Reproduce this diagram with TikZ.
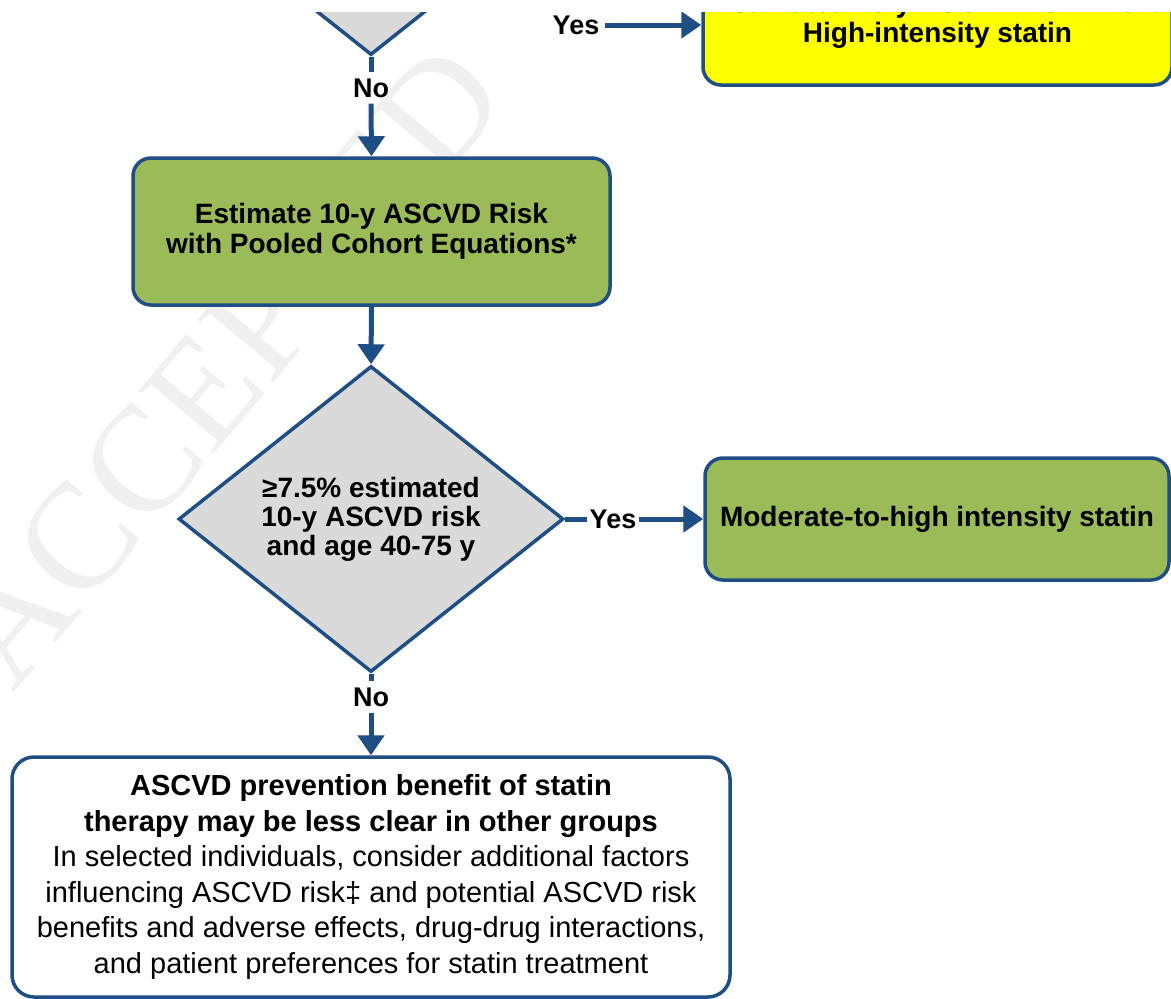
\documentclass[tikz,border=0pt]{standalone}
\usepackage{fontspec}
\setmainfont{Liberation Sans}
\newfontfamily\wmfont{Liberation Serif}
\usetikzlibrary{arrows.meta,shapes.geometric}
\definecolor{fblue}{HTML}{1F4E85}
\definecolor{fgreen}{HTML}{9BBB59}
\definecolor{fgray}{HTML}{DADADA}
\definecolor{fyellow}{HTML}{FFFF00}
\tikzset{
  box/.style={draw=fblue, line width=3.5pt, rounded corners=18pt, align=center,
    inner sep=0pt, font=\bfseries\fontsize{28}{30}\selectfont},
  dec/.style={diamond, draw=fblue, fill=fgray, line width=3.5pt, shape aspect=1.26,
    minimum width=385pt, minimum height=306pt, inner sep=0pt, align=center,
    font=\bfseries\fontsize{28}{29}\selectfont},
  lbl/.style={font=\bfseries\fontsize{27}{29}\selectfont, inner sep=6pt},
  conn/.style={draw=fblue, line width=5pt},
  arr/.style={conn, -{Triangle[width=26pt,length=20pt]}},
  wm/.style={font=\wmfont\fontsize{150}{150}\selectfont, text=black!6}
}
\begin{document}
\begin{tikzpicture}[x=1pt,y=-1pt]
\useasboundingbox[fill=white] (0,0) rectangle (1171,999);
\begin{scope}
\clip (0,12) rectangle (1171,999);
\node[wm, rotate=50] (wmark) at (225,365) {ACCEPTED};
% top decision (cut off)
\node[dec] (d1) at (371,-98) {};
\node[box, fill=fyellow, minimum width=469pt, minimum height=130pt] (y1) at (937.5,20)
  {Estimated 10-y ASCVD risk ≥7.5\%\\High-intensity statin};
\node[lbl] (yes1) at (576,25) {Yes};
\draw[arr] (yes1.east) -- (yes1.east -| y1.west);
\node[lbl] (no1) at (371,88) {No};
\draw[conn] (d1.south) -- (no1.north);
% estimate box
\node[box, fill=fgreen, minimum width=477pt, minimum height=147pt] (b1) at (371.5,231.5)
  {Estimate 10-y ASCVD Risk\\with Pooled Cohort Equations*};
\draw[arr] (no1.south) -- (b1.north);
% second decision
\node[dec] (d2) at (371,519) {≥7.5\% estimated\\10-y ASCVD risk\\and age 40-75 y};
\draw[arr] (b1.south) -- (d2.north);
\node[lbl, inner sep=3pt] (yes2) at (613,519) {Yes};
\node[box, fill=fgreen, minimum width=464pt, minimum height=122pt] (b2) at (937,519)
  {Moderate-to-high intensity statin};
\draw[conn] (d2.east) -- (yes2.west);
\draw[arr] (yes2.east) -- (b2.west);
\node[lbl] (no2) at (371,697) {No};
\node[box, fill=white, rounded corners=22pt, minimum width=718pt, minimum height=240pt,
  font=\fontsize{29}{35.5}\selectfont] (b3) at (371,877)
  {\textbf{ASCVD prevention benefit of statin}\\
   \textbf{therapy may be less clear in other groups}\\
   In selected individuals, consider additional factors\\
   influencing ASCVD risk‡ and potential ASCVD risk\\
   benefits and adverse effects, drug-drug interactions,\\
   and patient preferences for statin treatment};
\draw[conn] (d2.south) -- (no2.north);
\draw[arr] (no2.south) -- (b3.north);
\end{scope}
\end{tikzpicture}
\end{document}
